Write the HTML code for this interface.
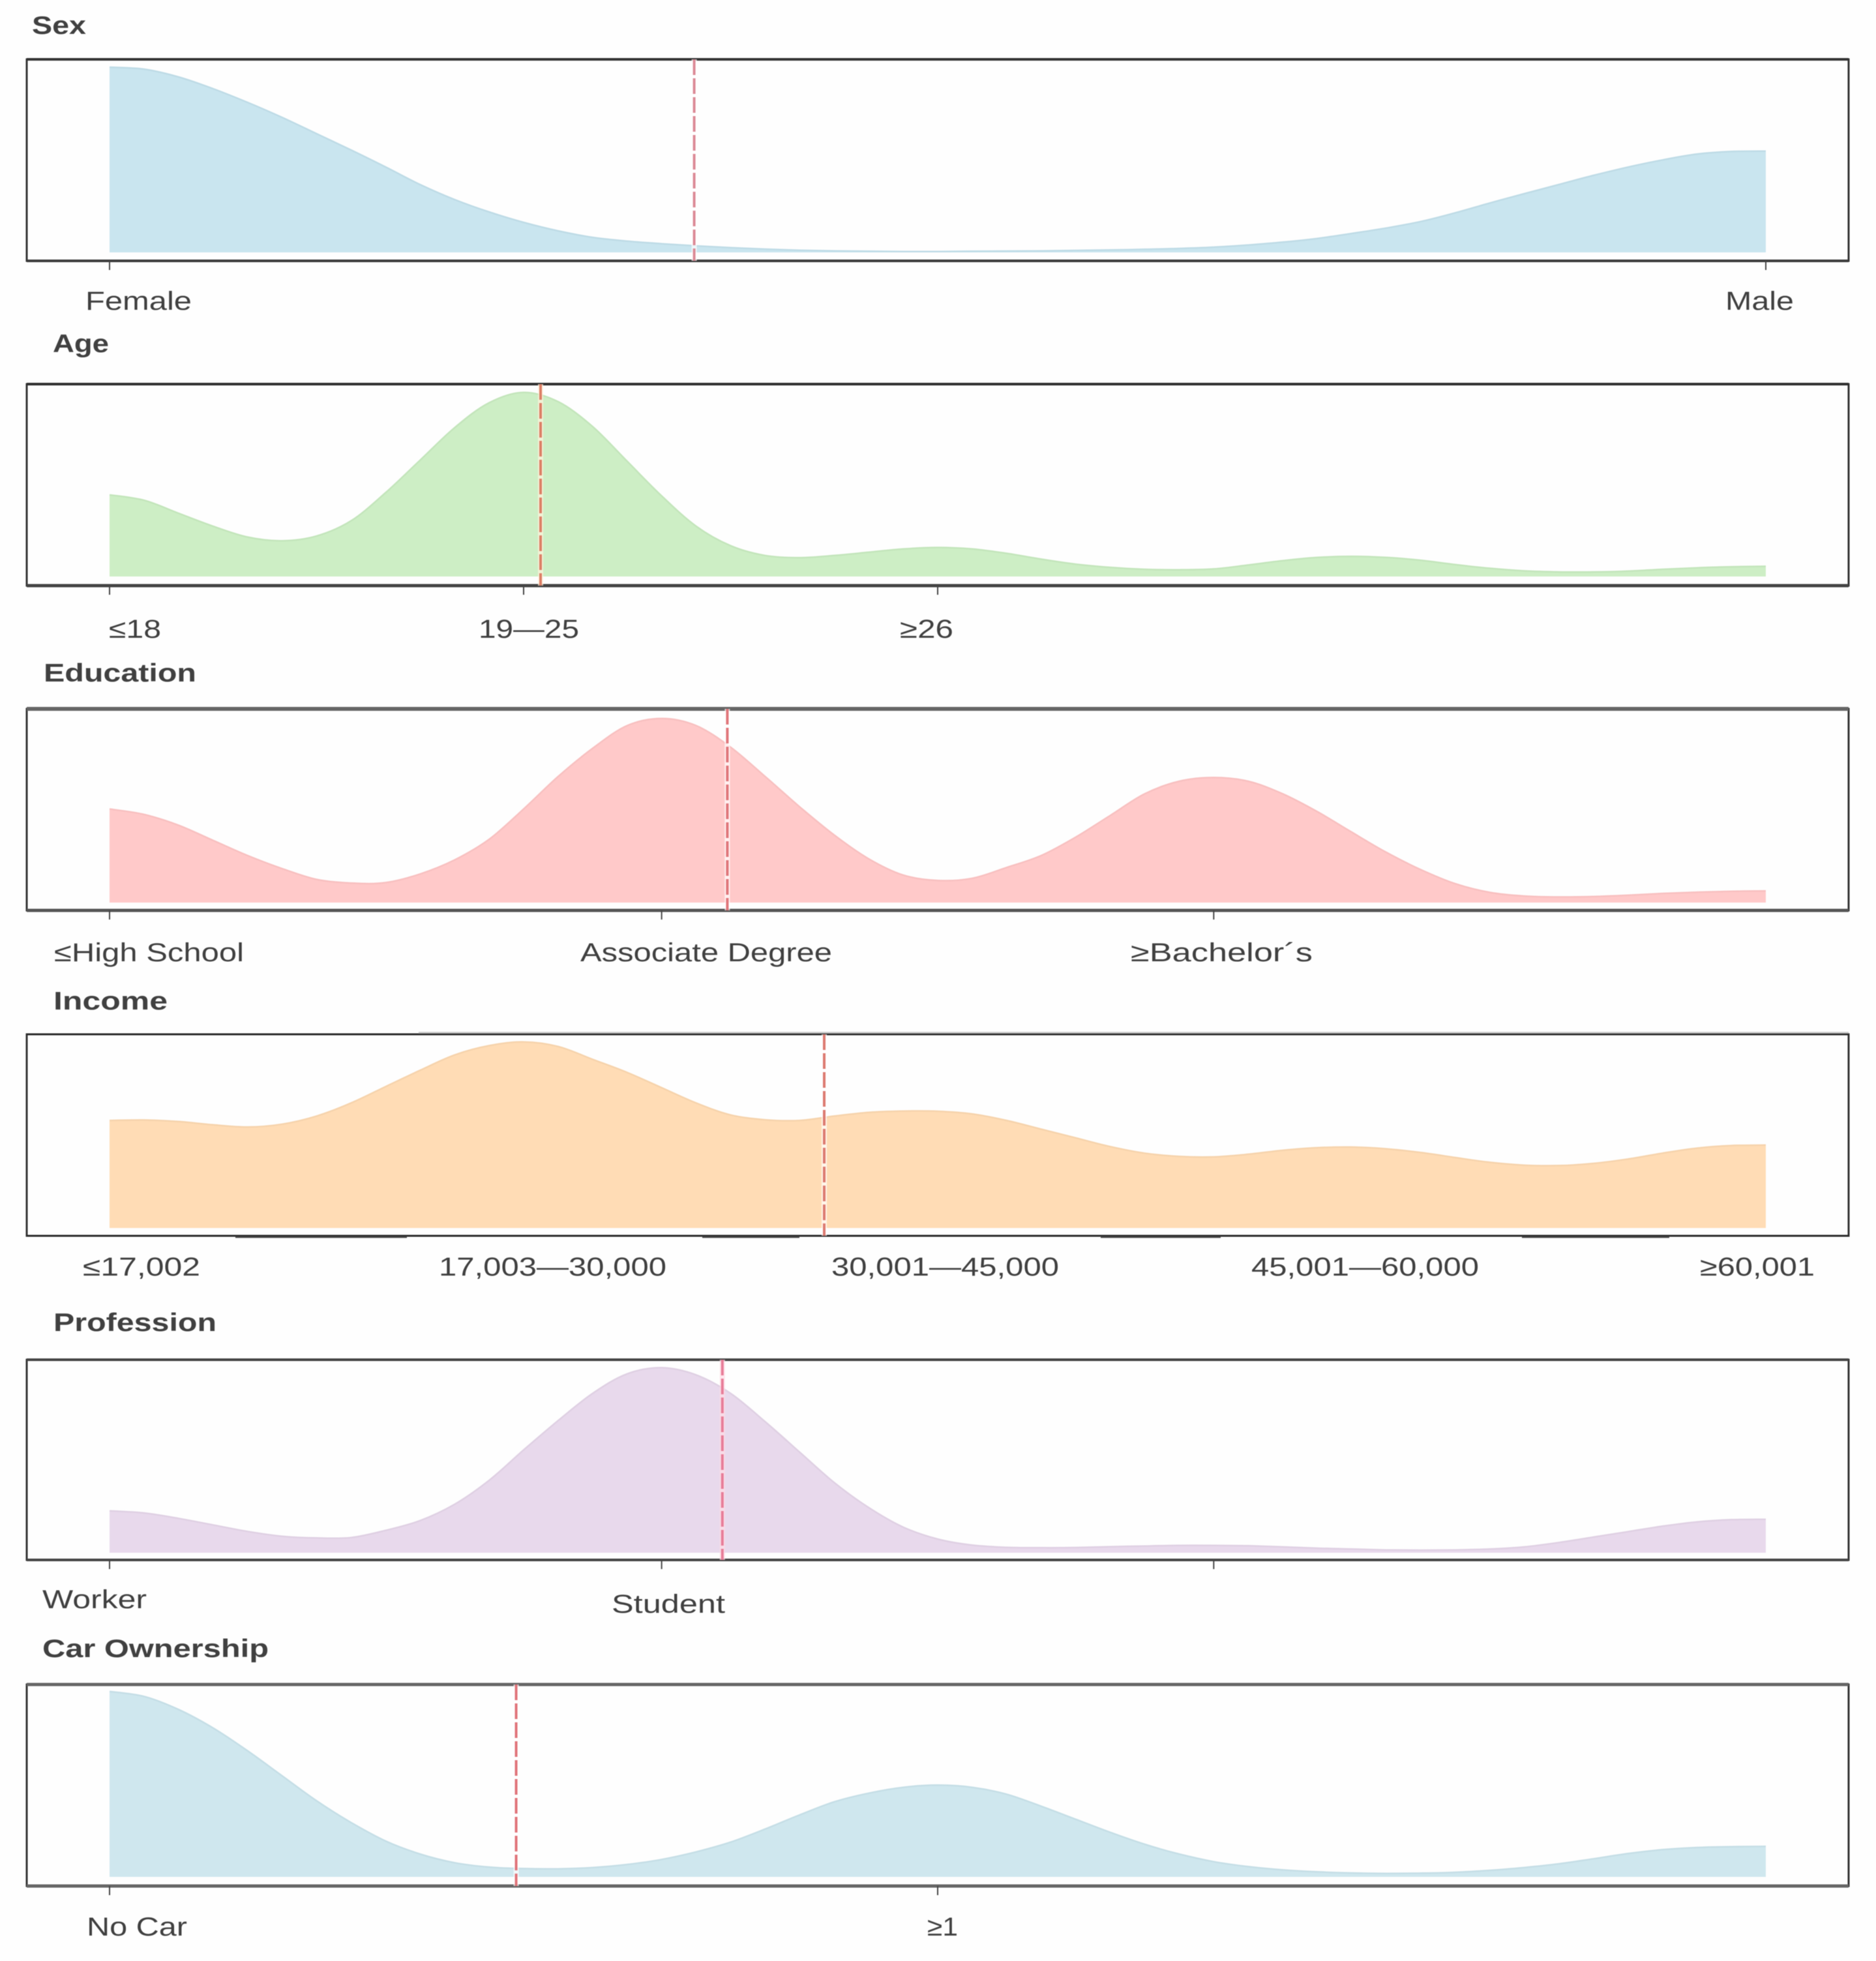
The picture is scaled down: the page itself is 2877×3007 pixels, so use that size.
<!DOCTYPE html>
<html lang="en">
<head>
<meta charset="utf-8">
<title>Density distributions of respondent characteristics</title>
<style>
  html, body { margin: 0; padding: 0; background: #fefefe; }
  svg { display: block; filter: blur(0.6px); }
  text { font-family: "Liberation Sans", "DejaVu Sans", sans-serif; fill: #404040; }
  .title { font-size: 39px; font-weight: 700; }
  .tick { font-size: 40px; }
</style>
</head>
<body>
<svg id="chart" xmlns="http://www.w3.org/2000/svg" width="2877" height="3007" viewBox="0 0 2877 3007">
  <g id="marks"></g>

  <g stroke="#444444" stroke-width="2.5">
    <line x1="642" x2="2835" y1="1583.5" y2="1583.5" stroke="#c8c8c8"/>
    <line x1="361" x2="624" y1="1897" y2="1897"/>
    <line x1="1077" x2="1226" y1="1897" y2="1897"/>
    <line x1="1688" x2="1872" y1="1897" y2="1897"/>
    <line x1="2334" x2="2560" y1="1897" y2="1897"/>
  </g>

  <text class="title" x="49" y="52" textLength="83" lengthAdjust="spacingAndGlyphs">Sex</text>
  <text class="tick" x="131" y="475" textLength="163" lengthAdjust="spacingAndGlyphs">Female</text>
  <text class="tick" x="2646" y="475" textLength="105" lengthAdjust="spacingAndGlyphs">Male</text>

  <text class="title" x="81" y="540" textLength="86" lengthAdjust="spacingAndGlyphs">Age</text>
  <text class="tick" x="167" y="978" textLength="80" lengthAdjust="spacingAndGlyphs">≤18</text>
  <text class="tick" x="734" y="978" textLength="154" lengthAdjust="spacingAndGlyphs">19—25</text>
  <text class="tick" x="1380" y="978" textLength="82" lengthAdjust="spacingAndGlyphs">≥26</text>

  <text class="title" x="67" y="1045" textLength="234" lengthAdjust="spacingAndGlyphs">Education</text>
  <text class="tick" x="83" y="1474" textLength="291" lengthAdjust="spacingAndGlyphs">≤High School</text>
  <text class="tick" x="890" y="1474" textLength="386" lengthAdjust="spacingAndGlyphs">Associate Degree</text>
  <text class="tick" x="1734" y="1474" textLength="279" lengthAdjust="spacingAndGlyphs">≥Bachelor´s</text>

  <text class="title" x="82" y="1548" textLength="175" lengthAdjust="spacingAndGlyphs">Income</text>
  <text class="tick" x="127" y="1956" textLength="180" lengthAdjust="spacingAndGlyphs">≤17,002</text>
  <text class="tick" x="673" y="1956" textLength="349" lengthAdjust="spacingAndGlyphs">17,003—30,000</text>
  <text class="tick" x="1275" y="1956" textLength="349" lengthAdjust="spacingAndGlyphs">30,001—45,000</text>
  <text class="tick" x="1919" y="1956" textLength="349" lengthAdjust="spacingAndGlyphs">45,001—60,000</text>
  <text class="tick" x="2607" y="1956" textLength="176" lengthAdjust="spacingAndGlyphs">≥60,001</text>

  <text class="title" x="82" y="2041" textLength="250" lengthAdjust="spacingAndGlyphs">Profession</text>
  <text class="tick" x="65" y="2466" textLength="160" lengthAdjust="spacingAndGlyphs">Worker</text>
  <text class="tick" x="938" y="2473" textLength="174" lengthAdjust="spacingAndGlyphs">Student</text>

  <text class="title" x="65" y="2541" textLength="347" lengthAdjust="spacingAndGlyphs">Car Ownership</text>
  <text class="tick" x="133" y="2968" textLength="154" lengthAdjust="spacingAndGlyphs">No Car</text>
  <text class="tick" x="1422" y="2968" textLength="47" lengthAdjust="spacingAndGlyphs">≥1</text>
</svg>

<script>
// Density readings (arbitrary units, 852 = tallest point of a panel), evenly sampled across each axis.
const sexValues = [852,843,807,753,690,621,546,471,393,312,243,186,138,99,69,52,40,30,22,15,10,7,5,4,4,5,6,7,9,11,14,18,24,34,47,64,87,112,142,182,227,270,312,354,392,425,452,464,466];
const ageValues = [377,352,292,232,182,165,187,257,387,537,687,802,850,807,692,532,372,232,142,97,87,97,112,127,134,127,107,80,57,42,33,31,35,53,73,88,93,88,75,55,38,26,21,21,25,33,40,45,47];
const educationValues = [432,407,357,287,217,157,107,90,92,132,197,292,432,582,712,817,850,817,717,582,442,312,202,127,102,112,162,217,302,402,502,560,577,560,502,420,325,232,152,87,47,30,26,28,34,42,48,52,54];
const incomeValues = [493,495,488,473,463,476,513,573,648,723,793,836,853,832,773,713,643,573,518,496,493,513,530,536,535,523,493,453,413,373,343,328,326,338,356,368,371,363,346,323,301,288,286,296,316,343,366,378,380];
const professionValues = [193,183,158,128,98,76,68,70,103,148,223,333,473,608,733,823,851,818,733,603,463,323,208,118,63,35,25,23,24,28,31,34,34,32,27,21,17,13,12,13,17,27,47,72,97,122,142,152,154];
const carValues = [853,830,770,685,580,465,350,250,165,105,65,45,38,37,43,57,80,115,160,220,285,345,385,412,422,412,380,325,265,205,150,105,70,47,32,23,18,16,17,21,30,43,60,83,107,125,135,139,140];

// Mean of each variable, in axis category units.
const sexMean = 0.353;
const ageMean = 1.041;
const educationMean = 1.119;
const incomeMean = 1.726;
const professionMean = 1.11;
const carMean = 0.491;

// Axis extent and tick positions, in category units.
const sexAxisMax = 1;
const ageAxisMax = 4;
const educationAxisMax = 3;
const incomeAxisMax = 4;
const professionAxisMax = 3;
const carAxisMax = 2;
const sexTicks = [0, 1];
const ageTicks = [0, 1, 2];
const educationTicks = [0, 1, 2];
const incomeTicks = [];
const professionTicks = [0, 1, 2];
const carTicks = [0, 1];

const densityMax = 852;

const SVG_NS = 'http://www.w3.org/2000/svg';
const marks = document.getElementById('marks');
const PLOT_LEFT = 168;
const PLOT_RIGHT = 2708;
const BOX_LEFT = 41;
const BOX_RIGHT = 2835;

function xAxis(value, axisMax) {
  return PLOT_LEFT + (value / axisMax) * (PLOT_RIGHT - PLOT_LEFT);
}

function yAxis(value, base, peak) {
  return base - (value / densityMax) * (base - peak);
}

function make(tag, attrs) {
  const el = document.createElementNS(SVG_NS, tag);
  Object.keys(attrs).forEach(function (k) { el.setAttribute(k, attrs[k]); });
  marks.appendChild(el);
  return el;
}

function smoothPath(pts) {
  let d = 'M' + pts[0][0].toFixed(1) + ' ' + pts[0][1].toFixed(1);
  for (let i = 0; i < pts.length - 1; i++) {
    const p0 = pts[Math.max(i - 1, 0)];
    const p1 = pts[i];
    const p2 = pts[i + 1];
    const p3 = pts[Math.min(i + 2, pts.length - 1)];
    const c1x = p1[0] + (p2[0] - p0[0]) / 6;
    const c1y = p1[1] + (p2[1] - p0[1]) / 6;
    const c2x = p2[0] - (p3[0] - p1[0]) / 6;
    const c2y = p2[1] - (p3[1] - p1[1]) / 6;
    d += 'C' + c1x.toFixed(1) + ' ' + c1y.toFixed(1) + ' ' + c2x.toFixed(1) + ' ' + c2y.toFixed(1) + ' ' + p2[0].toFixed(1) + ' ' + p2[1].toFixed(1);
  }
  return d;
}

function drawPanel(p) {
  const n = p.values.length;
  const pts = p.values.map(function (v, i) {
    return [xAxis((i / (n - 1)) * p.axisMax, p.axisMax), yAxis(v, p.base, p.peak)];
  });
  const line = smoothPath(pts);

  const area = make('path', {
    d: line + 'L' + PLOT_RIGHT + ' ' + p.base + 'L' + PLOT_LEFT + ' ' + p.base + 'Z',
    fill: p.fill
  });
  
  

  const edge = make('path', {
    d: line,
    fill: 'none',
    stroke: p.edge,
    'stroke-width': 2.5
  });
  
  

  const frame = make('rect', {
    x: BOX_LEFT,
    y: p.top,
    width: BOX_RIGHT - BOX_LEFT,
    height: p.bottom - p.top,
    fill: 'none',
    stroke: '#333333',
    'stroke-width': 3
  });
  
  

  const topRule = make('line', {
    x1: BOX_LEFT, x2: BOX_RIGHT, y1: p.top, y2: p.top,
    stroke: p.topColor, 'stroke-width': p.topWidth
  });
  
  

  const bottomRule = make('line', {
    x1: BOX_LEFT, x2: BOX_RIGHT, y1: p.bottom, y2: p.bottom,
    stroke: p.bottomColor, 'stroke-width': p.bottomWidth
  });
  
  

  p.ticks.forEach(function (t) {
    const tx = xAxis(t, p.axisMax);
    const tick = make('line', {
      x1: tx, x2: tx, y1: p.bottom, y2: p.bottom + 14,
      stroke: '#444444', 'stroke-width': 2
    });
    
    
  });

  const mx = xAxis(p.mean, p.axisMax);
  const halo = make('line', {
    x1: mx, x2: mx, y1: p.top, y2: p.bottom,
    stroke: p.haloColor, 'stroke-opacity': 0.7, 'stroke-width': 8
  });
  
  

  const mean = make('line', {
    x1: mx, x2: mx, y1: p.top, y2: p.bottom,
    stroke: p.meanColor, 'stroke-width': 4, 'stroke-dasharray': '24 5'
  });
  
  
}

drawPanel({ name: 'sex', values: sexValues, mean: sexMean, axisMax: sexAxisMax, ticks: sexTicks,
  top: 91, bottom: 400, base: 387, peak: 103, fill: '#c9e5ef', edge: '#bedbe6', meanColor: '#dc8a96', haloColor: '#ffffff',
  topColor: '#333333', topWidth: 4, bottomColor: '#3a3a3a', bottomWidth: 4 });
drawPanel({ name: 'age', values: ageValues, mean: ageMean, axisMax: ageAxisMax, ticks: ageTicks,
  top: 589, bottom: 898, base: 884, peak: 601, fill: '#cdeec5', edge: '#c3e5bb', meanColor: '#dc7f66', haloColor: '#fff2dc',
  topColor: '#2e2e2e', topWidth: 4, bottomColor: '#444444', bottomWidth: 5 });
drawPanel({ name: 'education', values: educationValues, mean: educationMean, axisMax: educationAxisMax, ticks: educationTicks,
  top: 1087, bottom: 1396, base: 1384, peak: 1101, fill: '#ffc9c9', edge: '#f8c0c0', meanColor: '#e0757a', haloColor: '#ffffff',
  topColor: '#666666', topWidth: 6, bottomColor: '#555555', bottomWidth: 5 });
drawPanel({ name: 'income', values: incomeValues, mean: incomeMean, axisMax: incomeAxisMax, ticks: incomeTicks,
  top: 1586, bottom: 1895, base: 1883, peak: 1598, fill: '#ffdcb5', edge: '#f6d3ac', meanColor: '#dc7a70', haloColor: '#ffffff',
  topColor: '#2a2a2a', topWidth: 3, bottomColor: '#2a2a2a', bottomWidth: 3 });
drawPanel({ name: 'profession', values: professionValues, mean: professionMean, axisMax: professionAxisMax, ticks: professionTicks,
  top: 2085, bottom: 2392, base: 2381, peak: 2097, fill: '#e8d9ec', edge: '#dfd0e3', meanColor: '#e87d98', haloColor: '#ffdbe6',
  topColor: '#444444', topWidth: 4, bottomColor: '#444444', bottomWidth: 4 });
drawPanel({ name: 'car-ownership', values: carValues, mean: carMean, axisMax: carAxisMax, ticks: carTicks,
  top: 2583, bottom: 2892, base: 2878, peak: 2594, fill: '#cfe7ee', edge: '#c5dee6', meanColor: '#e0747a', haloColor: '#ffffff',
  topColor: '#666666', topWidth: 5, bottomColor: '#666666', bottomWidth: 5 });
</script>
</body>
</html>
